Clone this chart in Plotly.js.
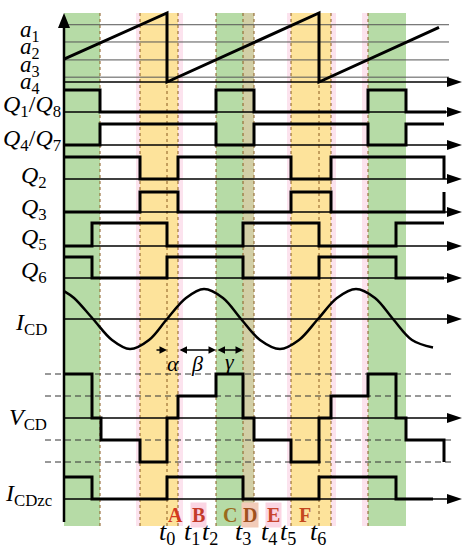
<!DOCTYPE html>
<html><head><meta charset="utf-8">
<script src="https://cdn.plot.ly/plotly-3.0.1.min.js"></script>
<style>html,body{margin:0;padding:0;background:#fff}#chart{width:472px;height:550px}</style>
</head><body><div id="chart"></div>
<script>
// ---------------- data (time in arbitrary units, origin at the vertical axis) ----------------
const carrierT = [0, 103, 103, 255, 255, 375];
const carrierV = [0.33, 1, 0, 1, 0, 0.79];
const aLevels = [0.83, 0.58, 0.32, 0.07];
const aLabels = ['1', '2', '3', '4'];

const q18T = [0, 36, 152, 190, 304, 342, 382];
const q18V = [1, 0, 1, 0, 1, 0, 0];
const q47T = [0, 36, 152, 190, 304, 342, 380];
const q47V = [0, 1, 0, 1, 0, 1, 1];
const q2T = [0, 76, 114, 227, 267, 380];
const q2V = [1, 0, 1, 0, 1, 0];
const q3T = [0, 76, 114, 227, 267, 380];
const q3V = [0, 1, 0, 1, 0, 1];
const q5T = [0, 28, 103, 179, 255, 332, 380];
const q5V = [0, 1, 0, 1, 0, 1, 1];
const q6T = [0, 28, 103, 179, 255, 332, 380];
const q6V = [1, 0, 1, 0, 1, 0, 0];

const icdT = [0, 10, 29, 48, 66, 85, 103, 122, 140, 159, 177, 196, 216, 235, 254, 273, 292, 311, 329, 348, 369];
const icdV = [0.93, 0.7, 0, -0.7, -1, -0.7, 0, 0.7, 1, 0.7, 0, -0.7, -1, -0.7, 0, 0.7, 1, 0.7, 0, -0.7, -0.95];

const vcdT = [0, 28, 37, 76, 103, 114, 152, 179, 190, 227, 255, 267, 304, 332, 342, 380];
const vcdV = [2, 0, -1, -2, 0, 1, 2, 0, -1, -2, 0, 1, 2, 0, -1, -2];
const vcdRefLevels = [2, 1, -1, -2];

const izcT = [0, 28, 103, 179, 255, 332, 369];
const izcV = [1, 0, 1, 0, 1, 0, 0];

const greenRegions = [[0, 36], [152, 179], [304, 342]];
const oliveRegions = [[179, 190]];
const yellowRegions = [[76, 114], [227, 267]];
const pinkRegions = [[72, 76], [114, 119], [223, 227], [267, 272], [298, 304]];
const dottedT = [36, 76, 103, 114, 152, 179, 190, 227, 255, 267, 304];

const tMarkT = [103, 128, 146, 179, 205, 224, 254];
const tMarkLabels = ['0', '1', '2', '3', '4', '5', '6'];
const sectionT = [111, 134, 166, 186, 209, 241];
const sectionLabels = ['A', 'B', 'C', 'D', 'E', 'F'];

const alphaT = [91, 103];
const betaT = [114, 152];
const gammaT = [152, 179];

// ---------------- layout constants (pixel rows) ----------------
const X0 = 64;                 // pixel x of time origin
const TEND = 398;              // arrow tip time
const rows = {
  car: {base: 82, h: 69},
  q18: {base: 112, h: 22},
  q47: {base: 145, h: 21},
  q2:  {base: 179, h: 22},
  q3:  {base: 212, h: 20},
  q5:  {base: 246, h: 23},
  q6:  {base: 278, h: 21},
  icd: {base: 319, h: 30},
  vcd: {base: 418, h: 22},
  izc: {base: 499, h: 22}
};
const Y = (r, v) => rows[r].base - v * rows[r].h;
const serif = 'Liberation Serif, Times New Roman, serif';

function stepTrace(r, T, V) {
  return {x: T, y: V.map(v => Y(r, v)), mode: 'lines', line: {shape: 'hv', color: '#000', width: 3},
          hoverinfo: 'skip', showlegend: false};
}

const traces = [
  {x: carrierT, y: carrierV.map(v => Y('car', v)), mode: 'lines', line: {color: '#000', width: 3}, hoverinfo: 'skip', showlegend: false},
  stepTrace('q18', q18T, q18V),
  stepTrace('q47', q47T, q47V),
  stepTrace('q2', q2T, q2V),
  stepTrace('q3', q3T, q3V),
  stepTrace('q5', q5T, q5V),
  stepTrace('q6', q6T, q6V),
  {x: icdT, y: icdV.map(v => Y('icd', v)), mode: 'lines', line: {shape: 'spline', color: '#000', width: 2.5}, hoverinfo: 'skip', showlegend: false},
  stepTrace('vcd', vcdT, vcdV),
  stepTrace('izc', izcT, izcV)
];

const shapes = [];
const rect = (a, b, color) => shapes.push({type: 'rect', xref: 'x', yref: 'y', x0: a, x1: b, y0: 13, y1: 526,
  fillcolor: color, line: {width: 0}, layer: 'below'});
pinkRegions.forEach(([a, b]) => rect(a, b, '#fce3ee'));
greenRegions.forEach(([a, b]) => rect(a, b, '#b6dba6'));
oliveRegions.forEach(([a, b]) => rect(a, b, '#d2cfa6'));
yellowRegions.forEach(([a, b]) => rect(a, b, '#fde39b'));
dottedT.forEach(t => shapes.push({type: 'line', x0: t, x1: t, y0: 13, y1: 527, line: {color: '#8a5a20', width: 1, dash: 'dot'}, layer: 'below'}));

// reference levels a1..a4
aLevels.forEach(v => shapes.push({type: 'line', x0: 0, x1: 385, y0: Y('car', v), y1: Y('car', v), line: {color: '#555', width: 1}, layer: 'below'}));
// V_CD dashed reference levels
vcdRefLevels.forEach(v => shapes.push({type: 'line', x0: -19, x1: 388, y0: Y('vcd', v), y1: Y('vcd', v), line: {color: '#333', width: 1, dash: '6px,4px'}, layer: 'below'}));

// time axes with arrowheads
Object.keys(rows).forEach(k => {
  const y = rows[k].base;
  shapes.push({type: 'line', x0: 0, x1: TEND - 8, y0: y, y1: y, line: {color: '#000', width: 1.5}});
  shapes.push({type: 'path', path: `M ${TEND - 15} ${y - 5} L ${TEND} ${y} L ${TEND - 15} ${y + 5} Z`, fillcolor: '#000', line: {width: 0}});
});
// vertical axis
shapes.push({type: 'line', x0: 0, x1: 0, y0: 26, y1: 522, line: {color: '#000', width: 2.5}});
shapes.push({type: 'path', path: `M -6 28 L 0 13 L 6 28 Z`, fillcolor: '#000', line: {width: 0}});

const annotations = [];
const txt = (x, y, text, size, opts = {}) => annotations.push(Object.assign({x, y, xref: 'x', yref: 'y', text, showarrow: false,
  font: {family: serif, size, color: '#000'}, xanchor: 'right', yanchor: 'middle', borderpad: 0}, opts));

aLevels.forEach((v, i) => txt(-23, Y('car', v) + 6, `<i>a</i><sub>${aLabels[i]}</sub>`, 23));
txt(-2, 106, '<i>Q</i><sub>1</sub>/<i>Q</i><sub>8</sub>', 24);
txt(-2, 140, '<i>Q</i><sub>4</sub>/<i>Q</i><sub>7</sub>', 24);
txt(-16, 177, '<i>Q</i><sub>2</sub>', 24);
txt(-16, 209, '<i>Q</i><sub>3</sub>', 24);
txt(-16, 239, '<i>Q</i><sub>5</sub>', 24);
txt(-16, 272, '<i>Q</i><sub>6</sub>', 24);
txt(-16, 324, '<i>I</i><sub>CD</sub>', 24);
txt(-16, 419, '<i>V</i><sub>CD</sub>', 24);
txt(-11, 495, '<i>I</i><sub>CDzc</sub>', 24);

tMarkT.forEach((t, i) => txt(t, 533, `<i>t</i><sub>${tMarkLabels[i]}</sub>`, 26, {xanchor: 'center'}));
const secColors = ['#d33a1f', '#c43a2a', '#9a6a1c', '#a0501d', '#c8442e', '#c4481e'];
const secBg = ['rgba(0,0,0,0)', '#fbd5e3', 'rgba(0,0,0,0)', '#f2cbb8', '#fbd5e3', 'rgba(0,0,0,0)'];
sectionT.forEach((t, i) => txt(t, 515, `<b>${sectionLabels[i]}</b>`, 20,
  {xanchor: 'center', font: {family: serif, size: 20, color: secColors[i]}, bgcolor: secBg[i], borderpad: 1}));

// alpha, beta, gamma intervals
const arr = (t0, t1, side) => annotations.push({x: t1, y: 350, ax: t0, ay: 350, xref: 'x', yref: 'y', axref: 'x', ayref: 'y',
  text: '', showarrow: true, arrowhead: 2, arrowsize: 1, arrowwidth: 1.5, arrowcolor: '#000', arrowside: side});
arr(alphaT[0], alphaT[1], 'end');
arr(betaT[0], betaT[1], 'end+start');
arr(gammaT[0], gammaT[1], 'end+start');
txt((alphaT[1] + 114) / 2, 363, '<i>α</i>', 22, {xanchor: 'center'});
txt((betaT[0] + betaT[1]) / 2, 363, '<i>β</i>', 22, {xanchor: 'center'});
txt((gammaT[0] + gammaT[1]) / 2, 361, '<i>γ</i>', 22, {xanchor: 'center'});

const layout = {
  width: 472, height: 550, margin: {l: 0, r: 0, t: 0, b: 0},
  paper_bgcolor: '#fff', plot_bgcolor: '#fff',
  xaxis: {range: [-X0, 472 - X0], visible: false, fixedrange: true},
  yaxis: {range: [550, 0], visible: false, fixedrange: true},
  shapes, annotations, showlegend: false
};
Plotly.newPlot('chart', traces, layout, {displayModeBar: false, staticPlot: true});
</script></body></html>
